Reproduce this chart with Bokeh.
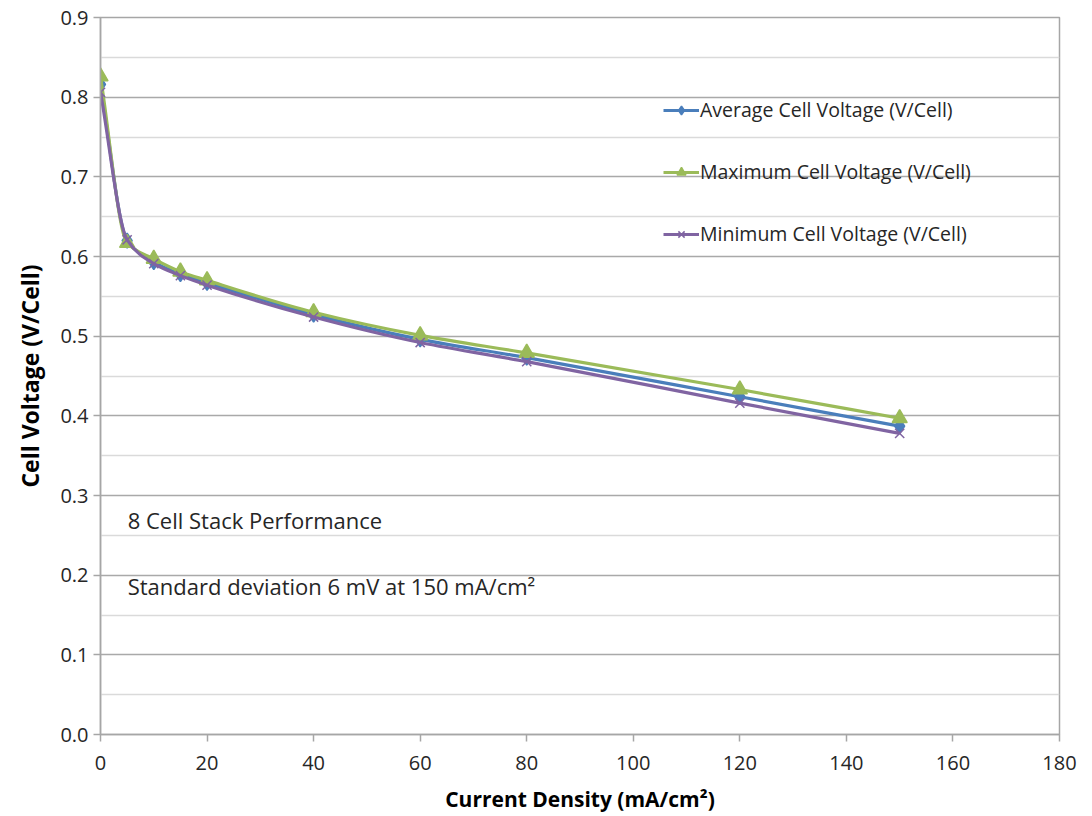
from bokeh.plotting import figure
from bokeh.models import (ColumnDataSource, Legend, LegendItem, FixedTicker,
                          Label, CustomJSTickFormatter)
from bokeh.embed import file_html
from bokeh.resources import INLINE

# Current density (mA/cm2) and cell voltages (V/Cell) for an 8-cell stack
current_density = [0, 5, 10, 15, 20, 40, 60, 80, 120, 150]
avg_voltage = [0.816, 0.620, 0.593, 0.578, 0.567, 0.527, 0.496, 0.473, 0.424, 0.387]
max_voltage = [0.826, 0.617, 0.597, 0.581, 0.570, 0.530, 0.501, 0.479, 0.433, 0.397]
min_voltage = [0.806, 0.621, 0.591, 0.576, 0.564, 0.524, 0.492, 0.468, 0.416, 0.378]

x_ticks = [0, 20, 40, 60, 80, 100, 120, 140, 160, 180]
y_ticks = [0.0, 0.1, 0.2, 0.3, 0.4, 0.5, 0.6, 0.7, 0.8, 0.9]
y_minor = [0.05, 0.15, 0.25, 0.35, 0.45, 0.55, 0.65, 0.75, 0.85]

FONT = "Open Sans"


def smooth_segments(xs, ys):
    """Cubic Bezier segments through the points using monotone
    (Fritsch-Carlson) tangents, so the curve never overshoots."""
    n = len(xs)
    h = [xs[i + 1] - xs[i] for i in range(n - 1)]
    d = [(ys[i + 1] - ys[i]) / h[i] for i in range(n - 1)]
    m = [0.0] * n
    m[0], m[-1] = d[0], d[-1]
    for k in range(1, n - 1):
        if d[k - 1] * d[k] <= 0:
            m[k] = 0.0
        else:
            w1 = 2 * h[k] + h[k - 1]
            w2 = h[k] + 2 * h[k - 1]
            m[k] = (w1 + w2) / (w1 / d[k - 1] + w2 / d[k])
    seg = dict(x0=[], y0=[], x1=[], y1=[], cx0=[], cy0=[], cx1=[], cy1=[])
    for i in range(n - 1):
        t = h[i] / 3
        seg["x0"].append(xs[i]); seg["y0"].append(ys[i])
        seg["x1"].append(xs[i + 1]); seg["y1"].append(ys[i + 1])
        seg["cx0"].append(xs[i] + t); seg["cy0"].append(ys[i] + m[i] * t)
        seg["cx1"].append(xs[i + 1] - t); seg["cy1"].append(ys[i + 1] - m[i + 1] * t)
    return seg


p = figure(width=1092, height=816, x_range=(0, 180), y_range=(0, 0.9),
           output_backend="svg", toolbar_location=None,
           min_border_left=100, min_border_right=33,
           min_border_top=17, min_border_bottom=82)
p.background_fill_color = "white"
p.border_fill_color = "white"
p.outline_line_color = "#a6a6a6"
p.outline_line_width = 1.5

# grid: major lines every 0.1, lighter lines at the halves
p.xgrid.visible = False
p.ygrid.ticker = FixedTicker(ticks=y_ticks, minor_ticks=y_minor)
p.ygrid.grid_line_color = "#a9a9a9"
p.ygrid.grid_line_width = 1.5
p.ygrid.minor_grid_line_color = "#dadada"
p.ygrid.minor_grid_line_width = 1.5

# axes
p.xaxis.ticker = FixedTicker(ticks=x_ticks)
p.yaxis.ticker = FixedTicker(ticks=y_ticks)
p.yaxis.formatter = CustomJSTickFormatter(code="return tick.toFixed(1)")
for ax in (p.xaxis[0], p.yaxis[0]):
    ax.axis_line_color = "#a6a6a6"
    ax.axis_line_width = 1.5
    ax.major_tick_line_color = "#a6a6a6"
    ax.major_tick_line_width = 1.5
    ax.major_tick_in = 0
    ax.major_tick_out = 7
    ax.minor_tick_line_color = None
    ax.major_label_text_font = FONT
    ax.major_label_text_font_size = "20px"
    ax.major_label_text_color = "#262626"
    ax.axis_label_text_font = FONT
    ax.axis_label_text_font_style = "bold"
    ax.axis_label_text_color = "#000000"
p.xaxis.major_label_standoff = 14
p.yaxis.major_label_standoff = 5
p.xaxis.axis_label = "Current Density (mA/cm²)"
p.xaxis.axis_label_text_font_size = "21px"
p.xaxis.axis_label_standoff = 12
p.yaxis.axis_label = "Cell Voltage (V/Cell)"
p.yaxis.axis_label_text_font_size = "23px"
p.yaxis.axis_label_standoff = 11

series = [
    ("Average Cell Voltage (V/Cell)", avg_voltage, "#4a7ebb", "diamond", 15),
    ("Maximum Cell Voltage (V/Cell)", max_voltage, "#9bbb59", "triangle", 15),
    ("Minimum Cell Voltage (V/Cell)", min_voltage, "#8064a2", "x", 13),
]

items = []
for label, ys, color, marker, size in series:
    seg = ColumnDataSource(smooth_segments(current_density, ys))
    curve = p.bezier(x0="x0", y0="y0", x1="x1", y1="y1",
                     cx0="cx0", cy0="cy0", cx1="cx1", cy1="cy1",
                     source=seg, line_color=color, line_width=3.2)
    pts = ColumnDataSource(dict(x=current_density, y=ys))
    marks = p.scatter("x", "y", source=pts, marker=marker, size=size,
                      fill_color=color, line_color=color, line_width=1.5)
    items.append(LegendItem(label=label, renderers=[curve, marks]))

legend = Legend(items=items, location=(563, 487),
                glyph_width=36, glyph_height=22, label_height=22,
                spacing=35, padding=0, margin=0, label_standoff=1,
                border_line_color=None, background_fill_alpha=0,
                label_text_font=FONT, label_text_font_size="19.5px",
                label_text_color="#262626")
p.add_layout(legend, "center")

p.add_layout(Label(x=5.1, y=0.269, text="8 Cell Stack Performance",
                   text_font=FONT, text_font_size="22px",
                   text_color="#262626", text_baseline="middle"))
p.add_layout(Label(x=5.1, y=0.186, text="Standard deviation 6 mV at 150 mA/cm²",
                   text_font=FONT, text_font_size="22px",
                   text_color="#262626", text_baseline="middle"))

open("out.html", "w").write(file_html(p, INLINE))
